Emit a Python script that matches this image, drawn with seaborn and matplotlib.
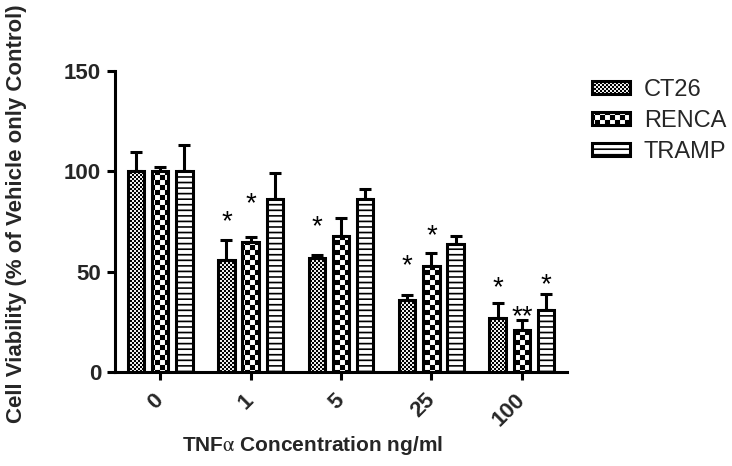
import numpy as np
import pandas as pd
import matplotlib
matplotlib.use("Agg")
import matplotlib.pyplot as plt
import matplotlib.patches as mpatches
import matplotlib.hatch as mhatch
from matplotlib.path import Path
import seaborn as sns

# ---------------- data ----------------
categories = ["0", "1", "5", "25", "100"]
series = ["CT26", "RENCA", "TRAMP"]
ct26 = [100, 56, 57, 36, 27]
ct26_err = [9.5, 10, 1.5, 2.5, 7.5]
renca = [100, 65, 68, 53, 21]
renca_err = [2, 2.5, 8.5, 6.5, 5]
tramp = [100, 86, 86, 64, 31]
tramp_err = [13, 13, 5, 4, 8]
# significance marks: (category index, series index, text, y of mark centre)
star_cat = [1, 1, 2, 3, 3, 4, 4, 4]
star_ser = [0, 1, 0, 0, 1, 0, 1, 2]
star_txt = ["*", "*", "*", "*", "*", "*", "**", "*"]
star_y = [77, 86, 74.5, 55, 70, 44.5, 30, 46]


# ---------------- custom filled hatches ----------------
class _Checker(mhatch.HatchPatternBase):
    char = "o"
    base = 50

    def __init__(self, hatch, density):
        k = hatch.count(self.char)
        self.n = self.base * k
        self.num_vertices = (self.n * self.n // 2) * 5 if k else 0
        self.filled = True

    def set_vertices_and_codes(self, vertices, codes):
        s = 1.0 / self.n
        idx = 0
        for i in range(self.n):
            for j in range(self.n):
                if (i + j) % 2 == 0:
                    x0, y0 = i * s, j * s
                    vertices[idx:idx + 5] = [(x0, y0), (x0 + s, y0), (x0 + s, y0 + s),
                                             (x0, y0 + s), (x0, y0)]
                    codes[idx:idx + 5] = [Path.MOVETO, Path.LINETO, Path.LINETO,
                                          Path.LINETO, Path.CLOSEPOLY]
                    idx += 5


class _FineChecker(_Checker):
    char = "o"
    base = 50


class _CoarseChecker(_Checker):
    char = "O"
    base = 20


class _Stripes(mhatch.HatchPatternBase):
    def __init__(self, hatch, density):
        k = hatch.count("-")
        self.n = 6 * k
        self.t = 0.016
        self.num_vertices = self.n * 5 if k else 0
        self.filled = True

    def set_vertices_and_codes(self, vertices, codes):
        s = 1.0 / self.n
        for i in range(self.n):
            y0 = i * s
            vertices[i * 5:i * 5 + 5] = [(0, y0), (1, y0), (1, y0 + self.t),
                                         (0, y0 + self.t), (0, y0)]
            codes[i * 5:i * 5 + 5] = [Path.MOVETO, Path.LINETO, Path.LINETO,
                                      Path.LINETO, Path.CLOSEPOLY]


mhatch._hatch_types = [_Stripes, mhatch.VerticalHatch,
                       mhatch.NorthEastHatch, mhatch.SouthEastHatch,
                       _FineChecker, _CoarseChecker,
                       mhatch.SmallFilledCircles, mhatch.Stars]

hatches = ["o", "O", "---"]

# ---------------- style ----------------
sns.set_style("ticks")
plt.rcParams["font.family"] = ["Liberation Sans", "DejaVu Sans"]
plt.rcParams["mathtext.fontset"] = "stix"
plt.rcParams["hatch.linewidth"] = 0.05
plt.rcParams["hatch.color"] = "black"

df = pd.DataFrame({
    "conc": categories * 3,
    "line": sum([[s] * len(categories) for s in series], []),
    "value": ct26 + renca + tramp,
})
errs = [ct26_err, renca_err, tramp_err]

fig = plt.figure(figsize=(7.32, 4.66), dpi=100)
ax = fig.add_axes([115 / 732, 1 - 372 / 466, 452 / 732, 301 / 466])

sns.barplot(data=df, x="conc", y="value", hue="line", order=categories,
            hue_order=series, palette=["white"] * 3, edgecolor="black",
            linewidth=2.2, errorbar=None, gap=0.32, saturation=1,
            legend=False, ax=ax, zorder=3)

bar_containers = list(ax.containers)
centers = []
for k, cont in enumerate(bar_containers):
    xs = []
    for p in cont.patches:
        p.set_hatch(hatches[k])
        xs.append(p.get_x() + p.get_width() / 2)
    centers.append(xs)
    vals = [p.get_height() for p in cont.patches]
    ax.errorbar(xs, vals, yerr=[np.zeros(len(vals)), errs[k]], fmt="none",
                ecolor="black", elinewidth=2.2, capsize=4.5, capthick=2.2,
                zorder=2)

for c, s, t, y in zip(star_cat, star_ser, star_txt, star_y):
    ax.text(centers[s][c], y - 6, t, ha="center", va="baseline",
            fontsize=20, color="black", zorder=5)

ax.set_xlim(-0.5, 4.5)
ax.set_ylim(0, 150)
ax.set_yticks([0, 50, 100, 150])
ax.set_yticklabels(["0", "50", "100", "150"], fontsize=16, fontweight="bold")
ax.set_xticks(range(len(categories)))
ax.set_xticklabels(categories, fontsize=16, fontweight="bold", rotation=45,
                   ha="right", va="center", rotation_mode="anchor")
ax.tick_params(axis="both", direction="out", length=6, width=2.2, color="black",
               pad=4)
ax.tick_params(axis="x", pad=12)
for sp in ["left", "bottom"]:
    ax.spines[sp].set_linewidth(2.2)
    ax.spines[sp].set_color("black")
for sp in ["top", "right"]:
    ax.spines[sp].set_visible(False)

ax.set_ylabel("Cell Viability (% of Vehicle only Control)", fontsize=16,
              fontweight="bold")
ax.yaxis.set_label_coords(-0.195, 0.527)
ax.set_xlabel(r"TNF$\mathrm{\alpha}$ Concentration ng/ml", fontsize=15,
              fontweight="bold")
ax.xaxis.set_label_coords(0.438, -0.205)

handles = [mpatches.Patch(facecolor="white", edgecolor="black", linewidth=2.2,
                          hatch=h) for h in hatches]
fig.legend(handles, series, loc="upper left",
           bbox_to_anchor=(592 / 732, 1 - 79 / 466), frameon=False, fontsize=17,
           handlelength=1.6, handleheight=0.45, handletextpad=0.6,
           labelspacing=0.38, borderpad=0, borderaxespad=0)

fig.savefig("out.png", dpi=100, facecolor="white")
